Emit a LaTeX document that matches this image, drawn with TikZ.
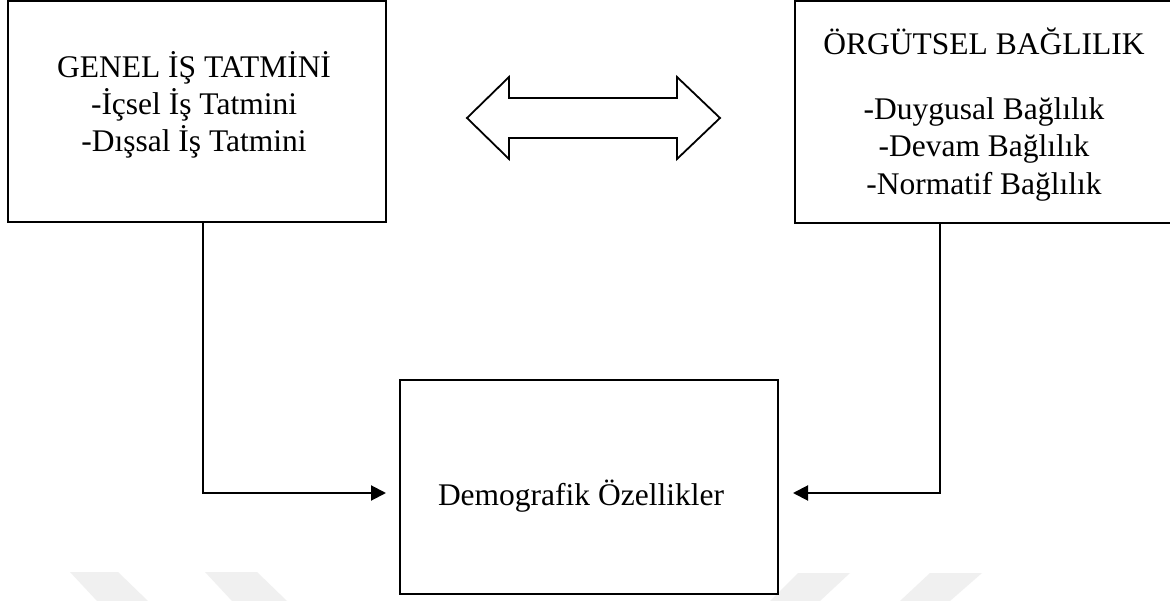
\documentclass[tikz,border=0pt]{standalone}
\usepackage{fontspec}
\setmainfont{Liberation Serif}
\usetikzlibrary{arrows.meta}
\begin{document}
\begin{tikzpicture}[x=1pt,y=-1pt,
  boxnode/.style={draw=black,line width=2pt,inner sep=0pt,outer sep=0pt,fill=none},
  txt/.style={inner sep=0pt,anchor=base,font=\fontsize{31.5}{37}\selectfont},
  conn/.style={draw=black,line width=2pt,-{Triangle[length=15pt,width=15pt]}},
  wm/.style={fill=black!6,draw=none}]
\useasboundingbox (0,0) rectangle (1170,601);
\clip (0,0) rectangle (1170,601);
\fill[white] (0,0) rectangle (1170,601);
% faint watermark bands
\fill[wm] (70,572) -- (118,572) -- (148,601) -- (97,601) -- cycle;
\fill[wm] (205,572) -- (257,572) -- (287,601) -- (232,601) -- cycle;
\fill[wm] (798,573) -- (850,573) -- (820,601) -- (770,601) -- cycle;
\fill[wm] (930,573) -- (982,573) -- (950,601) -- (900,601) -- cycle;
% boxes
\node[boxnode,minimum width=378pt,minimum height=221pt] (L) at (197,111.5) {};
\node[boxnode,minimum width=400pt,minimum height=222pt] (R) at (995,112) {};
\node[boxnode,fill=white,minimum width=378pt,minimum height=214pt] (D) at (589,487) {};
% texts
\node[txt] (L1) at (194,78) {GENEL İŞ TATMİNİ};
\node[txt] (L2) at (194,115) {-İçsel İş Tatmini};
\node[txt] (L3) at (194,152) {-Dışsal İş Tatmini};
\node[txt] (R1) at (984,55) {ÖRGÜTSEL BAĞLILIK};
\node[txt] (R2) at (984,120) {-Duygusal Bağlılık};
\node[txt] (R3) at (984,157) {-Devam Bağlılık};
\node[txt] (R4) at (984,194.5) {-Normatif Bağlılık};
\node[txt] (D1) at (581,505) {Demografik Özellikler};
% double arrow
\draw[line width=1.8pt,line join=miter] (467,118) -- (509,77) -- (509,98) -- (677,98) -- (677,77) -- (720,118)
  -- (677,159) -- (677,138) -- (509,138) -- (509,159) -- cycle;
% connectors
\draw[conn,shorten >=14pt] (L.south -| 203,0) |- ([yshift=-6pt]D.west);
\draw[conn,shorten >=15pt] (R.south -| 940,0) |- ([yshift=-6pt]D.east);
\end{tikzpicture}
\end{document}
